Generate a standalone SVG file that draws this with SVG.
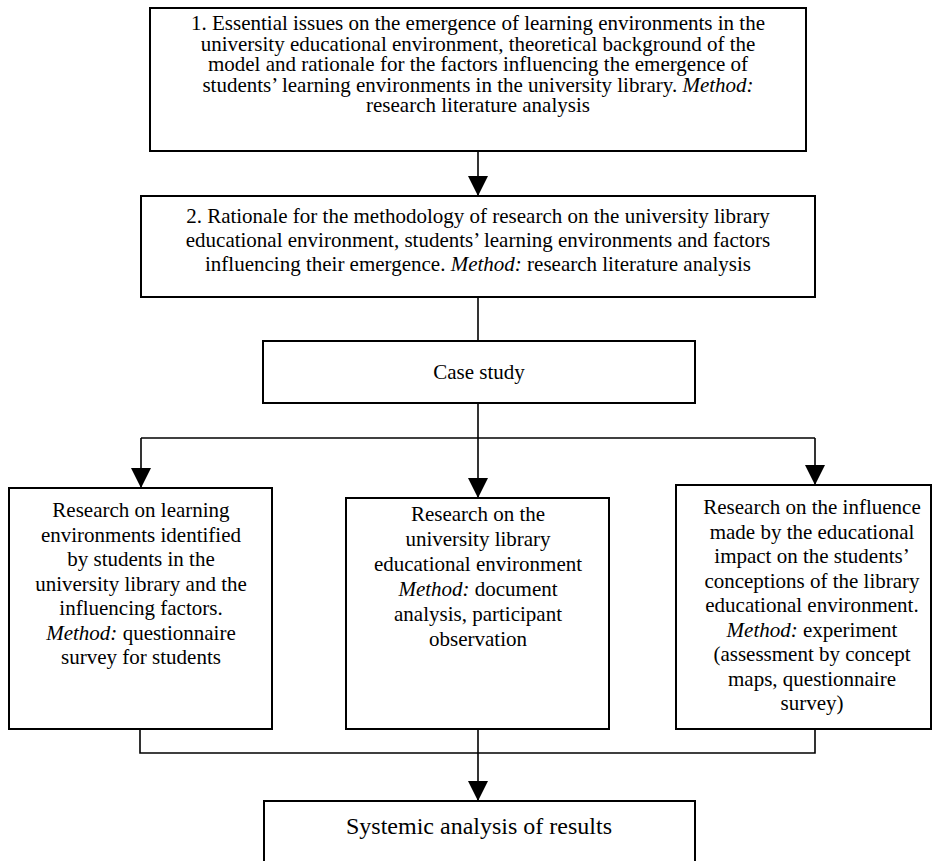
<svg xmlns="http://www.w3.org/2000/svg" width="933" height="861" viewBox="0 0 933 861">
<style>
.box{fill:#fff;stroke:#000;stroke-width:2}
.t{font-family:"Liberation Serif","Times New Roman",serif;font-size:21px;fill:#000;text-anchor:middle}
.big{font-size:24px}
.i{font-style:italic}
.c{fill:none;stroke:#000;stroke-width:1.6}
</style>
<defs>
<marker id="ah" markerUnits="userSpaceOnUse" markerWidth="20" markerHeight="20" viewBox="0 0 20 20" refX="20" refY="10" orient="auto">
<path d="M0,0 L20,10 L0,20 Z" fill="#000"/>
</marker>
</defs>
<rect width="933" height="861" fill="#fff"/>
<g id="connectors">
<line class="c" x1="478" y1="151" x2="478" y2="196" marker-end="url(#ah)"/>
<line class="c" x1="478" y1="297" x2="478" y2="341"/>
<line class="c" x1="478" y1="403" x2="478" y2="438"/>
<line class="c" x1="141" y1="438" x2="815" y2="438"/>
<line class="c" x1="141" y1="438" x2="141" y2="488" marker-end="url(#ah)"/>
<line class="c" x1="478" y1="438" x2="478" y2="498" marker-end="url(#ah)"/>
<line class="c" x1="815" y1="438" x2="815" y2="485" marker-end="url(#ah)"/>
<polyline class="c" points="140,729 140,753 815,753 815,729"/>
<line class="c" x1="478" y1="729" x2="478" y2="801" marker-end="url(#ah)"/>
</g>
<g id="n1">
<rect class="box" x="150" y="8" width="656" height="143"/>
<text class="t" x="478" y="30">1. Essential issues on the emergence of learning environments in the</text>
<text class="t" x="478" y="50.5">university educational environment, theoretical background of the</text>
<text class="t" x="478" y="71">model and rationale for the factors influencing the emergence of</text>
<text class="t" x="478" y="91.5">students’ learning environments in the university library. <tspan class="i">Method:</tspan></text>
<text class="t" x="478" y="112">research literature analysis</text>
</g>
<g id="n2">
<rect class="box" x="141" y="196" width="674" height="101"/>
<text class="t" x="478" y="223">2. Rationale for the methodology of research on the university library</text>
<text class="t" x="478" y="247">educational environment, students’ learning environments and factors</text>
<text class="t" x="478" y="271">influencing their emergence. <tspan class="i">Method:</tspan> research literature analysis</text>
</g>
<g id="n3">
<rect class="box" x="263" y="341" width="432" height="62"/>
<text class="t" x="479" y="379">Case study</text>
</g>
<g id="n4">
<rect class="box" x="9" y="488" width="263" height="241"/>
<text class="t" x="141" y="517">Research on learning</text>
<text class="t" x="141" y="541.5">environments identified</text>
<text class="t" x="141" y="566">by students in the</text>
<text class="t" x="141" y="590.5">university library and the</text>
<text class="t" x="141" y="615">influencing factors.</text>
<text class="t" x="141" y="639.5"><tspan class="i">Method:</tspan> questionnaire</text>
<text class="t" x="141" y="664">survey for students</text>
</g>
<g id="n5">
<rect class="box" x="346" y="498" width="263" height="231"/>
<text class="t" x="478" y="521">Research on the</text>
<text class="t" x="478" y="546">university library</text>
<text class="t" x="478" y="571">educational environment</text>
<text class="t" x="478" y="596"><tspan class="i">Method:</tspan> document</text>
<text class="t" x="478" y="621">analysis, participant</text>
<text class="t" x="478" y="646">observation</text>
</g>
<g id="n6">
<rect class="box" x="676" y="485" width="255" height="244"/>
<text class="t" x="812" y="514">Research on the influence</text>
<text class="t" x="812" y="538.5">made by the educational</text>
<text class="t" x="812" y="563">impact on the students’</text>
<text class="t" x="812" y="587.5">conceptions of the library</text>
<text class="t" x="812" y="612">educational environment.</text>
<text class="t" x="812" y="636.5"><tspan class="i">Method:</tspan> experiment</text>
<text class="t" x="812" y="661">(assessment by concept</text>
<text class="t" x="812" y="685.5">maps, questionnaire</text>
<text class="t" x="812" y="710">survey)</text>
</g>
<g id="n7">
<rect class="box" x="264" y="801" width="431" height="80"/>
<text class="t big" x="479" y="834">Systemic analysis of results</text>
</g>
</svg>
